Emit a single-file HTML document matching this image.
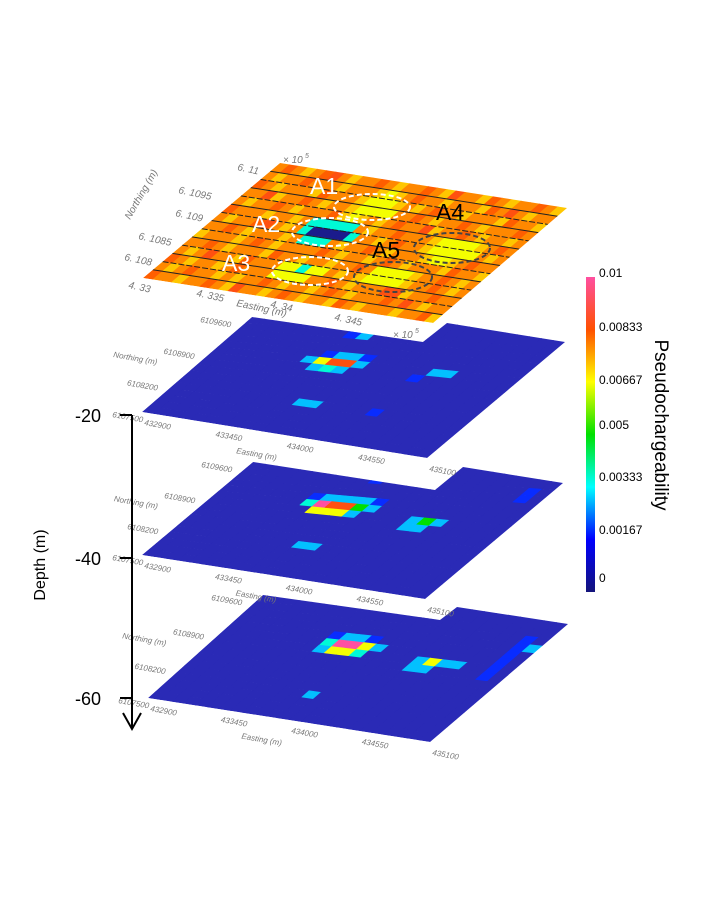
<!DOCTYPE html>
<html><head><meta charset="utf-8"><style>
html,body{margin:0;padding:0;background:#fff;}
svg{display:block;font-family:"Liberation Sans",sans-serif;}
</style></head><body>
<svg id="fig" width="707" height="912" viewBox="0 0 707 912">
<defs>
<linearGradient id="cbar" x1="0" y1="1" x2="0" y2="0">
<stop offset="0" stop-color="#14147a"/><stop offset="0.167" stop-color="#0000ff"/><stop offset="0.333" stop-color="#00ffff"/><stop offset="0.5" stop-color="#00e000"/><stop offset="0.667" stop-color="#ffff00"/><stop offset="0.833" stop-color="#ff5000"/><stop offset="1" stop-color="#ff4fa0"/>
</linearGradient>
<clipPath id="clip0"><polygon points="280,163 567,208 433,323 143,278"/></clipPath>
<clipPath id="clip1"><polygon points="252,317 423,342 447,323 565,342 427,458 142,412"/></clipPath>
<clipPath id="clip2"><polygon points="253,462 435,490 463,467 563,483 425,599 142,555"/></clipPath>
<clipPath id="clip3"><polygon points="263,595 440,620 457,607 568,624 430,742 148,698"/></clipPath>
</defs>
<g id="layers"></g>
<g id="top-annot">
<ellipse cx="372" cy="207" rx="38" ry="13" fill="none" stroke="#fff" stroke-width="2" stroke-dasharray="5,3"/>
<ellipse cx="330" cy="232" rx="38" ry="14" fill="none" stroke="#fff" stroke-width="2" stroke-dasharray="5,3"/>
<ellipse cx="310" cy="271" rx="38" ry="14" fill="none" stroke="#fff" stroke-width="2" stroke-dasharray="5,3"/>
<ellipse cx="452" cy="248" rx="38" ry="15" fill="none" stroke="#444" stroke-width="2" stroke-dasharray="5,3"/>
<ellipse cx="393" cy="277" rx="39" ry="15" fill="none" stroke="#444" stroke-width="2" stroke-dasharray="5,3"/>
<text x="310" y="194" font-size="23" fill="#fff">A1</text>
<text x="252" y="232" font-size="23" fill="#fff">A2</text>
<text x="222" y="271" font-size="23" fill="#fff">A3</text>
<text x="436" y="220" font-size="23" fill="#000">A4</text>
<text x="372" y="258" font-size="23" fill="#000">A5</text>
</g>
<g font-size="10" fill="#777" font-style="italic">
<text x="237" y="170" transform="rotate(12 237 170)">6. 11</text>
<text x="178" y="193" transform="rotate(12 178 193)">6. 1095</text>
<text x="175" y="216" transform="rotate(12 175 216)">6. 109</text>
<text x="138" y="239" transform="rotate(12 138 239)">6. 1085</text>
<text x="124" y="260" transform="rotate(12 124 260)">6. 108</text>
<text x="128" y="288" transform="rotate(12 128 288)">4. 33</text>
<text x="196" y="296" transform="rotate(12 196 296)">4. 335</text>
<text x="270" y="307" transform="rotate(12 270 307)">4. 34</text>
<text x="334" y="320" transform="rotate(12 334 320)">4. 345</text>
<text x="236" y="306" transform="rotate(12 236 306)">Easting (m)</text>
<text x="130" y="220" transform="rotate(-60 130 220)">Northing (m)</text>
<text x="283" y="163">× 10</text><text x="305" y="158" font-size="7">5</text>
<text x="393" y="338">× 10</text><text x="415" y="333" font-size="7">5</text>
</g>
<g id="slice-labels" font-size="8" fill="#777" font-style="italic"></g>
<g>
<line x1="132" y1="415" x2="132" y2="728" stroke="#000" stroke-width="2"/>
<polyline points="123,713 132,729 141,713" fill="none" stroke="#000" stroke-width="2"/>
<line x1="120" y1="415" x2="132" y2="415" stroke="#000" stroke-width="2"/>
<line x1="120" y1="558" x2="132" y2="558" stroke="#000" stroke-width="2"/>
<line x1="120" y1="698" x2="132" y2="698" stroke="#000" stroke-width="2"/>
<text x="101" y="422" font-size="18" text-anchor="end">-20</text>
<text x="101" y="565" font-size="18" text-anchor="end">-40</text>
<text x="101" y="705" font-size="18" text-anchor="end">-60</text>
<text x="45" y="565" font-size="16" text-anchor="middle" transform="rotate(-90 45 565)">Depth (m)</text>
</g>
<g>
<rect x="586" y="277" width="9" height="315" fill="url(#cbar)"/>
<g font-size="12" fill="#000">
<text x="599" y="277">0.01</text><text x="599" y="331">0.00833</text><text x="599" y="384">0.00667</text><text x="599" y="429">0.005</text><text x="599" y="481">0.00333</text><text x="599" y="534">0.00167</text><text x="599" y="582">0</text>
</g>
<text x="655" y="425" font-size="19" text-anchor="middle" transform="rotate(90 655 425)">Pseudochargeability</text>
</g>
</svg>
<script>
// values in units of 1e-3; chars map to values
const codeValues = {'.':1.0,'a':1.9,'b':2.9,'c':3.6,'g':5.0,'y':6.6,'r':8.5,'p':10,'o':7.8,'q':7.2,'s':8.2,'n':0.3};
const topGrid = [
"osoqosroqoosoqoosoqrooqsoqoosoq",
"oqoosoooqoooqyqosooqoooqsoroqoo",
"soqoooqsoooqyyyqoqosooqoooqsooq",
"oorqoosoqooqyyyyoosoqoosoqoooso",
"oqoosoqooosqyqoqosoorqoosoqooqo",
"soooqooqocccccoqoosoooqyyyyqoso",
"oqoosroqocnnnncooqosooqyyyyyoqo",
"oosoqoooqoccc qoosoqoooqyyqoso",
"qoooqosoqoooosoqooqosoqoooqsooq",
"oosoqoooqsooqooqoosoyyyyqoosoqo",
"oqorooqsoooyycyyoqoqyyyyqoosoqo",
"soqooqosoooyyyyoosoqooorrqoosoo",
"oqosooqoqoosoqooqosoqooosoroqoo",
"sooqoosoqrooqosoqooqsoqoooqoosq"];
const slice20 = [
"........................",
"........ab..............",
"........................",
"........................",
"........abba............",
".......byrrb.....bb.....",
"........bcb.....a.......",
"........................",
"........................",
"........................",
"........................",
"..........bb....a.......",
"........................",
"........................",
"........................",
"........................"];
const slice40 = [
"........................",
"..........a...........a.",
"......................a.",
"........................",
".......abbbba...........",
".......cprrgb...........",
"........yyyb....bgb.....",
"................bb......",
"........................",
"........................",
"........................",
"..........bb............",
"........................",
"........................",
"........................",
"........................"];
const slice60 = [
"........................",
"........................",
"......................a.",
"......................ab",
"........abba..........a.",
"........cppyb.........a.",
"........byyc....bybb..a.",
"................bb....a.",
"........................",
"........................",
"........................",
"........................",
"...........b............",
"........................",
"........................",
"........................"];
const cmapStops=[[0,[20,20,122]],[1.0,[42,42,182]],[1.67,[10,10,255]],[3.33,[0,255,255]],[5,[0,224,0]],[6.67,[255,255,0]],[8.33,[255,80,0]],[10,[255,79,160]]];
function cmap(v){v=Math.max(0,Math.min(10,v));for(let i=0;i<cmapStops.length-1;i++){const a=cmapStops[i],b=cmapStops[i+1];if(v<=b[0]){const t=(v-a[0])/(b[0]-a[0]);const c=a[1].map((x,k)=>Math.round(x+(b[1][k]-x)*t));return 'rgb('+c.join(',')+')';}}return 'rgb(255,79,160)';}
function bil(C,u,v){return [(1-u)*(1-v)*C.FL[0]+u*(1-v)*C.FR[0]+(1-u)*v*C.BL[0]+u*v*C.BR[0],(1-u)*(1-v)*C.FL[1]+u*(1-v)*C.FR[1]+(1-u)*v*C.BL[1]+u*v*C.BR[1]];}
const NS='http://www.w3.org/2000/svg';
const layers=document.getElementById('layers');
function drawGrid(grid,C,clip,name,bgv){
  const g=document.createElementNS(NS,'g');
  g.setAttribute('clip-path','url(#'+clip+')');
  
  
  layers.appendChild(g);
  const rows=grid.length, cols=grid[0].length;
  for(let r=0;r<rows;r++){for(let c=0;c<cols;c++){
    const ch=grid[r][c]||bgv;
    const val=codeValues[ch]!==undefined?codeValues[ch]:codeValues[bgv];
    const v1=(rows-r)/rows, v0=(rows-r-1)/rows;
    const u0=c/cols,u1=(c+1)/cols;
    const v1e=(r===0)?1.15:v1;
    const pts=[bil(C,u0,v0),bil(C,u1+0.003,v0),bil(C,u1+0.003,v1e+0.003),bil(C,u0,v1e+0.003)];
    const p=document.createElementNS(NS,'polygon');
    p.setAttribute('points',pts.map(q=>q[0].toFixed(1)+','+q[1].toFixed(1)).join(' '));
    p.setAttribute('fill',cmap(val));
    
    
    g.appendChild(p);
  }}
  return g;
}
const C0={FL:[143,278],FR:[433,323],BL:[280,163],BR:[567,208]};
const C1={FL:[142,412],FR:[427,458],BL:[252,317],BR:[565,342]};
const C2={FL:[142,555],FR:[425,599],BL:[253,462],BR:[563,483]};
const C3={FL:[148,698],FR:[430,742],BL:[263,595],BR:[568,624]};
drawGrid(slice60,C3,'clip3','slice-60m','.');
drawGrid(slice40,C2,'clip2','slice-40m','.');
drawGrid(slice20,C1,'clip1','slice-20m','.');
const tg=drawGrid(topGrid,C0,'clip0','surface-map','o');
for(let i=1;i<=13;i++){
  const v=i/14;
  const a=bil(C0,0,v),b=bil(C0,1,v);
  const l=document.createElementNS(NS,'line');
  l.setAttribute('x1',a[0]);l.setAttribute('y1',a[1]);l.setAttribute('x2',b[0]);l.setAttribute('y2',b[1]);
  l.setAttribute('stroke','#222');l.setAttribute('stroke-width','1');
  if(i%2===0)l.setAttribute('stroke-dasharray','6,2');
  
  
  tg.appendChild(l);
}
const sl=document.getElementById('slice-labels');
const northTicks=['6109600','6108900','6108200','6107500'];
const eastTicks=['432900','433450','434000','434550','435100'];
const slices=[C1,C2,C3];
function addText(x,y,s,rot){const t=document.createElementNS(NS,'text');t.setAttribute('x',x.toFixed(1));t.setAttribute('y',y.toFixed(1));t.setAttribute('transform','rotate('+rot+' '+x.toFixed(1)+' '+y.toFixed(1)+')');t.textContent=s;


sl.appendChild(t);}
slices.forEach(C=>{
  northTicks.forEach((s,i)=>{const v=1-i/3;const p=bil(C,0,v);addText(p[0]-52+(i===3?22:0),p[1]+5,s,10);});
  eastTicks.forEach((s,i)=>{const u=i/4;const p=bil(C,u,0);addText(p[0]+2,p[1]+13,s,10);});
  const pe=bil(C,0.33,0);addText(pe[0],pe[1]+26,'Easting (m)',10);
  const pn=bil(C,0,0.6);addText(pn[0]-95,pn[1]+2,'Northing (m)',10);
});
</script>
</body></html>
